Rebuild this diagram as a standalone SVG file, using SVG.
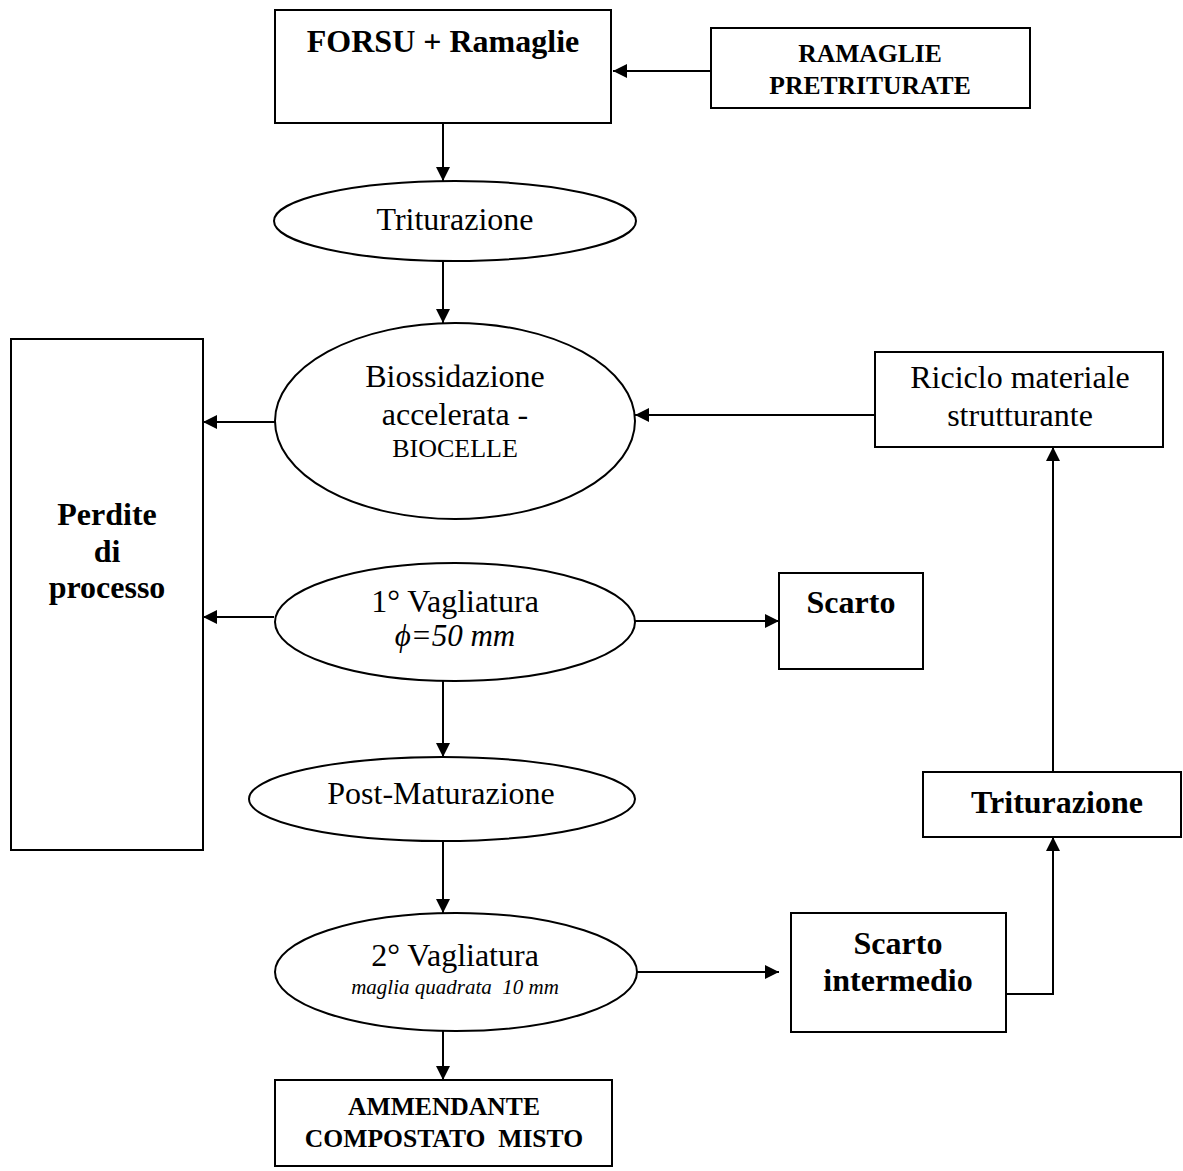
<svg xmlns="http://www.w3.org/2000/svg" width="1183" height="1171" viewBox="0 0 1183 1171">
<style>
  .box{fill:#fff;stroke:#000;stroke-width:2}
  .ell{fill:#fff;stroke:#000;stroke-width:2}
  .ln{fill:none;stroke:#000;stroke-width:2}
  text{font-family:"Liberation Serif","Times New Roman",serif;fill:#000;text-anchor:middle}
  .b32{font-size:32px;font-weight:bold}
  .r32{font-size:32px}
  .b26{font-size:25.6px;font-weight:bold}
  .r26{font-size:26px}
  .i32{font-size:31px;font-style:italic}
  .i21{font-size:21px;font-style:italic;white-space:pre}
</style>
<defs>
  <marker id="ah" markerWidth="14" markerHeight="14" refX="14" refY="7" orient="auto" markerUnits="userSpaceOnUse">
    <path d="M0,0 L14,7 L0,14 Z" fill="#000"/>
  </marker>
</defs>
<rect width="1183" height="1171" fill="#fff"/>
<g id="connectors">
  <line class="ln" x1="711" y1="71" x2="613" y2="71" marker-end="url(#ah)"/>
  <line class="ln" x1="443" y1="123" x2="443" y2="181" marker-end="url(#ah)"/>
  <line class="ln" x1="443" y1="261" x2="443" y2="323" marker-end="url(#ah)"/>
  <line class="ln" x1="275" y1="422" x2="203" y2="422" marker-end="url(#ah)"/>
  <line class="ln" x1="875" y1="415" x2="635" y2="415" marker-end="url(#ah)"/>
  <line class="ln" x1="274" y1="617" x2="203" y2="617" marker-end="url(#ah)"/>
  <line class="ln" x1="635" y1="621" x2="779" y2="621" marker-end="url(#ah)"/>
  <line class="ln" x1="443" y1="681" x2="443" y2="757" marker-end="url(#ah)"/>
  <line class="ln" x1="443" y1="841" x2="443" y2="913" marker-end="url(#ah)"/>
  <line class="ln" x1="443" y1="1031" x2="443" y2="1080" marker-end="url(#ah)"/>
  <line class="ln" x1="637" y1="972" x2="779" y2="972" marker-end="url(#ah)"/>
  <polyline class="ln" points="1006,994 1053,994 1053,837" marker-end="url(#ah)"/>
  <line class="ln" x1="1053" y1="772" x2="1053" y2="447" marker-end="url(#ah)"/>
</g>
<g id="forsu">
  <rect class="box" x="275" y="10" width="336" height="113"/>
  <text class="b32" x="443" y="52">FORSU + Ramaglie</text>
</g>
<g id="ramaglie">
  <rect class="box" x="711" y="28" width="319" height="80"/>
  <text class="b26" x="870" y="62">RAMAGLIE</text>
  <text class="b26" x="870" y="94">PRETRITURATE</text>
</g>
<g id="triturazione1">
  <ellipse class="ell" cx="455" cy="221" rx="181" ry="40"/>
  <text class="r32" x="455" y="230">Triturazione</text>
</g>
<g id="biossidazione">
  <ellipse class="ell" cx="455" cy="421" rx="180" ry="98"/>
  <text class="r32" x="455" y="387">Biossidazione</text>
  <text class="r32" x="455" y="425">accelerata -</text>
  <text class="r26" x="455" y="457">BIOCELLE</text>
</g>
<g id="perdite">
  <rect class="box" x="11" y="339" width="192" height="511"/>
  <text class="b32" x="107" y="525">Perdite</text>
  <text class="b32" x="107" y="562">di</text>
  <text class="b32" x="107" y="598">processo</text>
</g>
<g id="riciclo">
  <rect class="box" x="875" y="352" width="288" height="95"/>
  <text class="r32" x="1020" y="388">Riciclo materiale</text>
  <text class="r32" x="1020" y="426">strutturante</text>
</g>
<g id="vagliatura1">
  <ellipse class="ell" cx="455" cy="622" rx="180" ry="59"/>
  <text class="r32" x="455" y="612">1° Vagliatura</text>
  <text class="i32" x="455" y="646">ϕ=50 mm</text>
</g>
<g id="scarto">
  <rect class="box" x="779" y="573" width="144" height="96"/>
  <text class="b32" x="851" y="613">Scarto</text>
</g>
<g id="postmaturazione">
  <ellipse class="ell" cx="442" cy="799" rx="193" ry="42"/>
  <text class="r32" x="441" y="804">Post-Maturazione</text>
</g>
<g id="triturazione2">
  <rect class="box" x="923" y="772" width="258" height="65"/>
  <text class="b32" x="1057" y="813">Triturazione</text>
</g>
<g id="vagliatura2">
  <ellipse class="ell" cx="456" cy="972" rx="181" ry="59"/>
  <text class="r32" x="455" y="966">2° Vagliatura</text>
  <text class="i21" x="455" y="994">maglia quadrata  10 mm</text>
</g>
<g id="scartointermedio">
  <rect class="box" x="791" y="913" width="215" height="119"/>
  <text class="b32" x="898" y="954">Scarto</text>
  <text class="b32" x="898" y="991">intermedio</text>
</g>
<g id="ammendante">
  <rect class="box" x="275" y="1080" width="337" height="86"/>
  <text class="b26" x="444" y="1115">AMMENDANTE</text>
  <text class="b26" x="444" y="1147" style="white-space:pre">COMPOSTATO  MISTO</text>
</g>
</svg>
